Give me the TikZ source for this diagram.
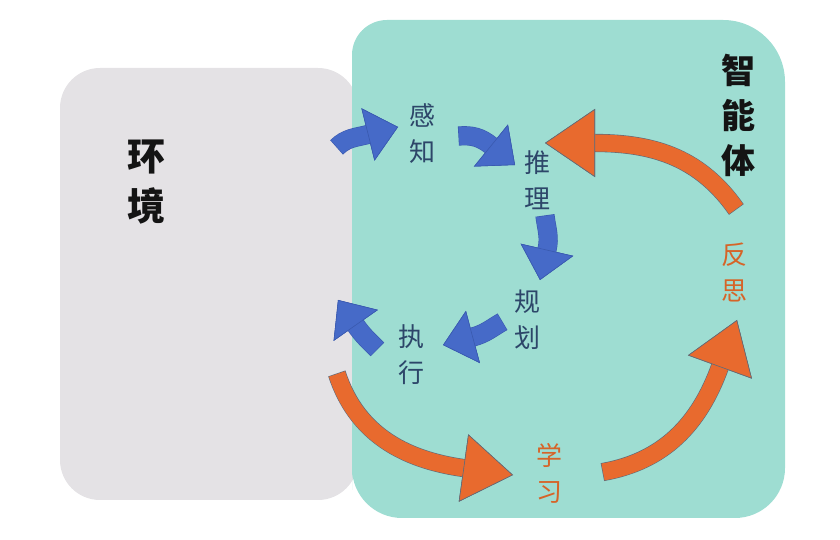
\documentclass[tikz,border=0pt]{standalone}
\usepackage{fontspec}
\newfontfamily\cjk{Noto Sans CJK SC}
\usetikzlibrary{arrows.meta,calc}
\definecolor{teal1}{HTML}{9EDDD2}
\definecolor{gray1}{HTML}{E4E2E5}
\definecolor{arrblue}{HTML}{466AC8}
\definecolor{arrblueD}{HTML}{3A5AB0}
\definecolor{arrorange}{HTML}{E86A2E}
\definecolor{arrorangeD}{HTML}{5E6A7A}
\definecolor{steptext}{HTML}{2D4669}
\definecolor{orangetext}{HTML}{D66428}
\tikzset{
  boxgray/.style={fill=gray1, draw=none},
  boxteal/.style={fill=teal1, draw=none},
  title/.style={font=\cjk\bfseries\fontsize{38}{50}\selectfont, text=black!92, align=center, inner sep=0pt},
  agent/.style={font=\cjk\bfseries\fontsize{34}{45}\selectfont, text=black!92, align=center, inner sep=0pt},
  steplbl/.style={font=\cjk\fontsize{26}{36}\selectfont, text=steptext, align=center, inner sep=0pt},
  learnlbl/.style={font=\cjk\fontsize{26}{36}\selectfont, text=orangetext, align=center, inner sep=0pt},
  blueline/.style={line width=19.2pt, draw=arrblueD, shorten <=-0.6pt,
    -{Triangle[length=31pt,width=54pt,line width=0.6pt,color=arrblueD,fill=arrblue]}},
  bluearrow/.style={line width=18pt, draw=arrblue,
    -{Triangle[length=31pt,width=54pt,line width=0.6pt,color=arrblueD,fill=arrblue]}},
  orangeline/.style={line width=18.2pt, draw=arrorangeD, shorten <=-0.6pt,
    -{Triangle[length=50pt,width=68pt,line width=0.6pt,color=arrorangeD,fill=arrorange]}},
  orangearrow/.style={line width=17pt, draw=arrorange,
    -{Triangle[length=50pt,width=68pt,line width=0.6pt,color=arrorangeD,fill=arrorange]}},
}
\begin{document}
\begin{tikzpicture}[x=1pt,y=1pt]
\useasboundingbox (0,0) rectangle (840,540);
% boxes
\path[boxgray, rounded corners=40pt] (60,40) rectangle (358,472);
\path[boxteal] (352,70) [rounded corners=48pt] -- (352,22) [rounded corners=35pt] -- (352,520) [rounded corners=62pt] -- (785,520) [rounded corners=50pt] -- (785,22) [rounded corners=50pt]-- (352,22) [sharp corners] -- cycle;
% labels
\node[title] (env) at (146,358) {环\\境};
\node[agent] (agent) at (738,425) {智\\能\\体};
\node[steplbl] (perc) at (422,406) {感\\知};
\node[steplbl] (reas) at (537,360) {推\\理};
\node[steplbl] (plan) at (527,220) {规\\划};
\node[steplbl] (exec) at (411,185) {执\\行};
\node[learnlbl] (learn) at (549,67) {学\\习};
\node[learnlbl] (refl) at (734,268) {反\\思};
% arrow end points (s = tail, e = tip, b = head base)
\coordinate (a1s) at (337,393); \coordinate (a1e) at (398,413); \coordinate (a1b) at ($(a1e)+(194:31)$);
\coordinate (a2s) at (459,404); \coordinate (a2e) at (515,375); \coordinate (a2b) at ($(a2e)+(141:31)$);
\coordinate (a3s) at (545,324); \coordinate (a3e) at (540,260); \coordinate (a3b) at ($(a3e)+(77:31)$);
\coordinate (a4s) at (502,218); \coordinate (a4e) at (443,195); \coordinate (a4b) at ($(a4e)+(15:31)$);
\coordinate (a5s) at (377,191); \coordinate (a5e) at (338,240); \coordinate (a5b) at ($(a5e)+(305:31)$);
\coordinate (a6s) at (337,166); \coordinate (a6e) at (513,65);  \coordinate (a6b) at ($(a6e)+(172:50)$);
\coordinate (a7s) at (603,68);  \coordinate (a7e) at (737,220); \coordinate (a7b) at ($(a7e)+(250:50)$);
\coordinate (a8s) at (736,331); \coordinate (a8e) at (545,397); \coordinate (a8b) at ($(a8e)+(0:50)$);
% blue arrows
\draw[blueline]  (a1s) to[out=45,in=194] (a1b) -- (a1e);
\draw[bluearrow] (a1s) to[out=45,in=194] (a1b) -- (a1e);
\draw[blueline]  (a2s) to[out=5,in=141] (a2b) -- (a2e);
\draw[bluearrow] (a2s) to[out=5,in=141] (a2b) -- (a2e);
\draw[blueline]  (a3s) to[out=-83,in=77] (a3b) -- (a3e);
\draw[bluearrow] (a3s) to[out=-83,in=77] (a3b) -- (a3e);
\draw[blueline]  (a4s) to[out=210,in=15] (a4b) -- (a4e);
\draw[bluearrow] (a4s) to[out=210,in=15] (a4b) -- (a4e);
\draw[blueline]  (a5s) to[out=135,in=305] (a5b) -- (a5e);
\draw[bluearrow] (a5s) to[out=135,in=305] (a5b) -- (a5e);
% orange arrows
\draw[orangeline]  (a6s) to[out=-72,in=172] (a6b) -- (a6e);
\draw[orangearrow] (a6s) to[out=-72,in=172] (a6b) -- (a6e);
\draw[orangeline]  (a7s) to[out=10,in=250] (a7b) -- (a7e);
\draw[orangearrow] (a7s) to[out=10,in=250] (a7b) -- (a7e);
\draw[orangeline]  (a8s) to[out=125,in=0] (a8b) -- (a8e);
\draw[orangearrow] (a8s) to[out=125,in=0] (a8b) -- (a8e);
\end{tikzpicture}
\end{document}
